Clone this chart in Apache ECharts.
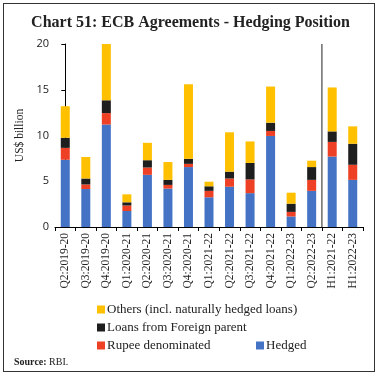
<!DOCTYPE html>
<html>
<head>
<meta charset="utf-8">
<script src="https://cdn.jsdelivr.net/npm/echarts@6/dist/echarts.min.js"></script>
<style>
html,body{margin:0;padding:0;background:#fff;}
#frame{position:absolute;left:3px;top:3px;width:372px;height:369px;border:1.5px solid #333;box-sizing:border-box;}
#chart{position:absolute;left:0;top:0;width:381px;height:381px;}
</style>
</head>
<body>
<div id="frame"></div>
<div id="chart"></div>
<script>
const categories = ['Q2:2019-20','Q3:2019-20','Q4:2019-20','Q1:2020-21','Q2:2020-21','Q3:2020-21','Q4:2020-21','Q1:2021-22','Q2:2021-22','Q3:2021-22','Q4:2021-22','Q1:2022-23','Q2:2022-23','H1:2021-22','H1:2022-23'];
const hedged = [7.35,4.15,11.2,1.75,5.7,4.2,6.55,3.25,4.4,3.7,9.95,1.15,3.95,7.7,5.15];
const rupeeDenominated = [1.3,0.5,1.25,0.6,0.8,0.4,0.35,0.7,0.9,1.5,0.55,0.5,1.2,1.6,1.65];
const loansForeignParent = [1.1,0.65,1.4,0.35,0.8,0.55,0.55,0.5,0.75,1.8,0.9,0.9,1.4,1.15,2.3];
const others = [3.45,2.35,6.2,0.87,1.9,1.95,8.15,0.5,4.3,2.35,3.95,1.2,0.7,4.8,1.9];
const yTicks = [0,5,10,15,20];
const separatorAt = 12.5;

const serif = 'Liberation Serif';
const chart = echarts.init(document.getElementById('chart'));
const legendText = {fontFamily: serif, fontSize: 13, color: '#222'};
function legend(name, left, top){
  return {data:[name], left:left, top:top, icon:'rect', itemWidth:8, itemHeight:8, itemGap:4, textStyle:Object.assign({padding:[0,0,0,-3]}, legendText), selectedMode:false};
}
chart.setOption({
  animation:false,
  title:{text:'Chart 51: ECB Agreements - Hedging Position', left:'center', top:10,
    textStyle:{fontFamily:serif, fontWeight:'bold', fontSize:16, color:'#222'}},
  grid:{left:55, right:18, top:44, bottom:154},
  legend:[
    legend('Others (incl. naturally hedged loans)', 92, 298),
    legend('Loans from Foreign parent', 92, 316),
    legend('Rupee denominated', 92, 334),
    legend('Hedged', 251, 334)
  ],
  graphic:[{type:'text', left:14, top:357, style:{text:'{b|Source:} RBI.', rich:{b:{fontWeight:'bold', fontFamily:serif, fontSize:10, fill:'#222'}}, fontFamily:serif, fontSize:10, fill:'#222'}}],
  xAxis:[{type:'category', data:categories,
    axisLine:{lineStyle:{color:'#000'}},
    axisTick:{show:true, alignWithLabel:false, length:4, lineStyle:{color:'#000'}},
    axisLabel:{rotate:90, fontFamily:serif, fontSize:11.5, color:'#222', margin:6, interval:0}},
   {type:'value', min:-0.5, max:14.5, show:false}],
  yAxis:{type:'value', min:0, max:20, interval:5,
    name:'US$ billion', nameLocation:'middle', nameGap:26,
    nameTextStyle:{fontFamily:serif, fontSize:11.5, color:'#222'},
    axisLine:{show:true, lineStyle:{color:'#000'}},
    axisTick:{show:true, length:4, lineStyle:{color:'#000'}},
    splitLine:{show:false},
    axisLabel:{fontFamily:'Open Sans', fontSize:11, color:'#222', margin:6,
      formatter:v=> yTicks.includes(v)? String(v):''}},
  series:[
    {name:'Hedged', type:'bar', stack:'a', data:hedged, barWidth:9, itemStyle:{color:'#4472C4'}},
    {name:'Rupee denominated', type:'bar', stack:'a', data:rupeeDenominated, itemStyle:{color:'#EE4025'}},
    {name:'Loans from Foreign parent', type:'bar', stack:'a', data:loansForeignParent, itemStyle:{color:'#1E1E1E'}},
    {name:'Others (incl. naturally hedged loans)', type:'bar', stack:'a', data:others, itemStyle:{color:'#FFC000'}},
    {type:'line', xAxisIndex:1, data:[[separatorAt,0],[separatorAt,20]], symbol:'none', lineStyle:{color:'#222', width:1}, silent:true}
  ]
});
</script>
</body>
</html>
